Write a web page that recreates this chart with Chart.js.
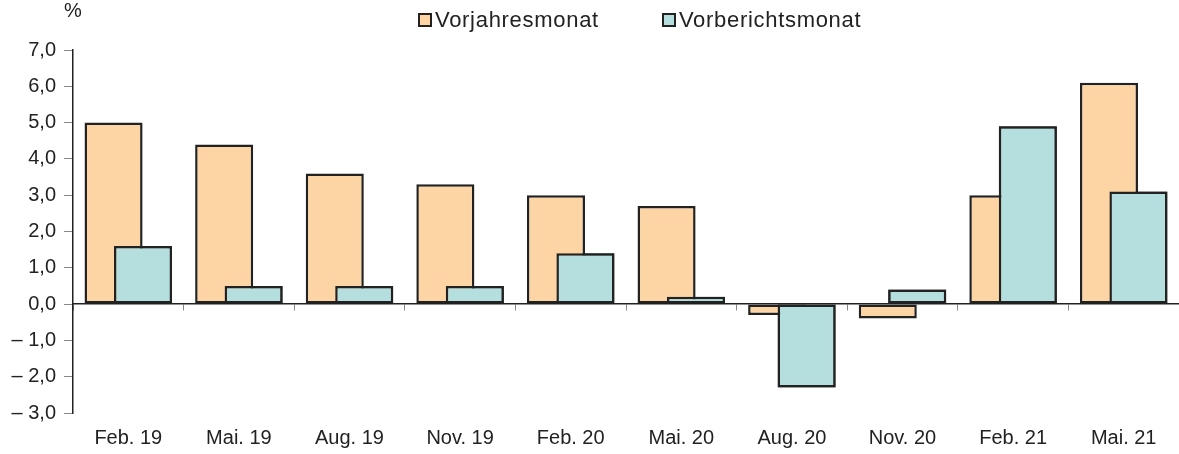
<!DOCTYPE html>
<html lang="de">
<head>
    <meta charset="UTF-8">
    <title>Chart</title>
    <style>
        html, body { margin: 0; padding: 0; background: #fff; }
        #wrap { position: relative; width: 1179px; height: 454px; }
        #legend {
            position: absolute; top: 9px; left: 418px;
            display: flex; gap: 63px;
            font: 22px "Liberation Sans", Arial, sans-serif; line-height: 22px; color: #222;
            letter-spacing: 0.7px;
        }
        #legend .item { display: flex; align-items: center; }
        #legend .box {
            width: 14px; height: 14px; box-sizing: border-box;
            border: 2.5px solid #222; margin-right: 3px;
        }
    </style>
</head>
<body>
<div id="wrap">
    <canvas id="myChart"></canvas>
    <div id="legend"></div>
</div>

<script src="https://cdn.jsdelivr.net/npm/chart.js"></script>

<script>
    const labels = ['Feb. 19', 'Mai. 19', 'Aug. 19', 'Nov. 19', 'Feb. 20', 'Mai. 20', 'Aug. 20', 'Nov. 20', 'Feb. 21', 'Mai. 21'];
    const vorjahresmonat = [5.0, 4.4, 3.6, 3.3, 3.0, 2.7, -0.3, -0.4, 3.0, 6.1];
    const vorberichtsmonat = [1.6, 0.5, 0.5, 0.5, 1.4, 0.2, -2.3, 0.4, 4.9, 3.1];
    const seriesNames = ['Vorjahresmonat', 'Vorberichtsmonat'];
    const yMin = -3;
    const yMax = 7;

    const colors = ['#FDD5A5', '#B5DEDE'];
    const edge = '#222222';
    const font = '"Liberation Sans", Arial, sans-serif';

    // format like 7,0 / – 1,0
    function fmt(v) {
        const s = Math.abs(v).toFixed(1).replace('.', ',');
        return v < 0 ? '\u2013 ' + s : s;
    }

    // second dataset has to lie over the first one
    const redrawSecond = {
        id: 'redrawSecond',
        afterDatasetsDraw(chart) {
            chart.getDatasetMeta(1).controller.draw();
        }
    };

    const percentLabel = {
        id: 'percentLabel',
        afterDraw(chart) {
            const ctx = chart.ctx;
            ctx.save();
            ctx.font = '20px ' + font;
            ctx.fillStyle = edge;
            ctx.textAlign = 'center';
            ctx.textBaseline = 'middle';
            ctx.fillText('%', chart.scales.y.right, 11);
            ctx.restore();
        }
    };

    const legendEl = document.getElementById('legend');
    seriesNames.forEach(function (name, i) {
        const item = document.createElement('div');
        item.className = 'item';
        item.innerHTML = '<span class="box" style="background:' + colors[i] + '"></span>' + name;
        legendEl.appendChild(item);
    });

    const ctx = document.getElementById('myChart');

    new Chart(ctx, {
        type: 'bar',
        data: {
            labels: labels,
            datasets: [
                {
                    label: seriesNames[0],
                    data: vorjahresmonat,
                    backgroundColor: colors[0],
                    borderColor: edge,
                    borderWidth: 2.5,
                    borderSkipped: false,
                    xAxisID: 'x'
                },
                {
                    label: seriesNames[1],
                    data: vorberichtsmonat,
                    backgroundColor: colors[1],
                    borderColor: edge,
                    borderWidth: 2.5,
                    borderSkipped: false,
                    xAxisID: 'x'
                }
            ]
        },
        options: {
            responsive: true,
            maintainAspectRatio: false,
            animation: false,
            categoryPercentage: 0.533,
            barPercentage: 1.97,
            layout: { padding: { top: 50, right: 0, bottom: 2, left: 0 } },
            plugins: {
                legend: { display: false },
                tooltip: { enabled: false }
            },
            scales: {
                x: {
                    position: { y: 0 },
                    offset: true,
                    afterFit: function (scale) { scale.height = 0; },
                    grid: { offset: true, drawOnChartArea: false, tickLength: 6, color: '#888', lineWidth: 1 },
                    border: { color: edge, width: 1.5 },
                    ticks: { display: false, padding: 0 }
                },
                x2: {
                    type: 'category',
                    position: 'bottom',
                    offset: true,
                    afterFit: function (scale) { scale.height = 39; },
                    grid: { display: false, drawTicks: false },
                    border: { display: false },
                    ticks: { padding: 13, color: edge, font: { family: font, size: 20 } }
                },
                y: {
                    min: yMin,
                    max: yMax,
                    afterFit: function (scale) { scale.width = 73; },
                    grid: { drawOnChartArea: false, tickLength: 9, color: '#888', lineWidth: 1 },
                    border: { color: edge, width: 1.5 },
                    ticks: {
                        stepSize: 1,
                        padding: 8,
                        color: edge,
                        font: { family: font, size: 20 },
                        callback: function (v) { return fmt(v); }
                    }
                }
            }
        },
        plugins: [redrawSecond, percentLabel]
    });
</script>

</body>
</html>
